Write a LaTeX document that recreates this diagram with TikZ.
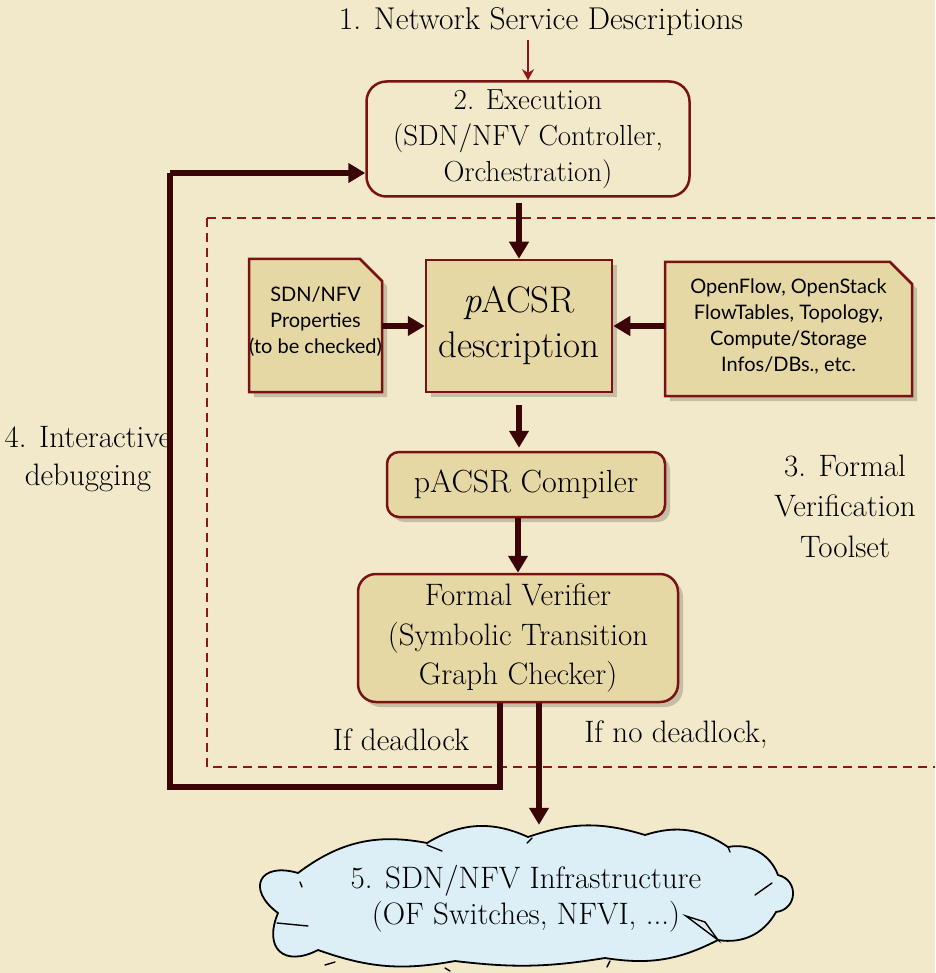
\documentclass[tikz,border=0pt]{standalone}
\usepackage{fontspec}
\newfontfamily\docsans{Lato}
\usetikzlibrary{arrows.meta,shadows,calc}
\definecolor{parch}{HTML}{F1E9C9}
\definecolor{boxfill}{HTML}{E6D8A4}
\definecolor{boxline}{HTML}{7A1212}
\definecolor{flow}{HTML}{3B0507}
\definecolor{redline}{HTML}{8E1616}
\definecolor{sky}{HTML}{DCEFF7}
\tikzset{
  serif/.style={font=\fontsize{31}{38}\selectfont, align=center},
  softshadow/.style={drop shadow={shadow xshift=5pt, shadow yshift=-5pt, fill=black, opacity=.18}},
  procbox/.style={draw=boxline, line width=2.5pt, fill=boxfill, rounded corners=18pt, softshadow, serif, inner sep=0pt},
  execbox/.style={draw=boxline, line width=2.5pt, fill=parch, rounded corners=20pt, serif, inner sep=0pt},
  descbox/.style={draw=boxline, line width=2.5pt, fill=boxfill, softshadow, inner sep=0pt, align=center},
  docbox/.style={draw=none, inner sep=0pt, align=center, font=\docsans\fontsize{20}{26}\selectfont},
  docshape/.style={draw=boxline, line width=2.5pt, fill=boxfill, softshadow},
  flowarrow/.style={draw=flow, line width=5.5pt, -{Triangle[length=17pt,width=19pt]}},
  flowline/.style={draw=flow, line width=5.5pt},
  thinarrow/.style={draw=redline, line width=2.5pt, -{Stealth[length=11pt,width=12pt]}},
  label/.style={serif},
  cloudline/.style={draw=black, line width=1.8pt, line cap=round},
  cloudmark/.style={draw=black, line width=1.4pt, line cap=round},
}
\begin{document}
\begin{tikzpicture}[x=1pt,y=-1pt]
\useasboundingbox (0,0) rectangle (935,973);
\clip (0,0) rectangle (935,973);
\fill[parch] (0,0) rectangle (935,973);

% verification toolset frame
\draw[redline, line width=1.6pt, dash pattern=on 9pt off 6pt] (207,218) rectangle (960,767);

% title and execution stage
\node[label, font=\fontsize{31.5}{38}\selectfont] (title) at (541,22) {1. Network Service Descriptions};
\node[execbox, minimum width=323pt, minimum height=115pt, font=\fontsize{29}{36}\selectfont] (exec) at (528,139)
  {2. Execution\\(SDN/NFV Controller,\\Orchestration)};

% document-style inputs with a folded corner
\filldraw[docshape] (249,259) -- (360,259) -- (382,281) -- (382,392) -- (249,392) -- cycle;
\node[docbox, minimum width=133pt, minimum height=133pt] (props) at (315.5,322)
  {SDN/NFV\\Properties\\(to be checked)};
\filldraw[docshape] (665,262) -- (890,262) -- (912,284) -- (912,396) -- (665,396) -- cycle;
\node[docbox, minimum width=247pt, minimum height=134pt] (ofin) at (788.5,326)
  {OpenFlow, OpenStack\\FlowTables, Topology,\\Compute/Storage\\Infos/DBs., etc.};

% pACSR pipeline
\node[descbox, minimum width=186pt, minimum height=132pt, font=\fontsize{37}{45}\selectfont] (desc) at (519,326)
  {\textit{p}ACSR\\description};
\node[procbox, rounded corners=12pt, minimum width=278pt, minimum height=65pt, font=\fontsize{32}{38}\selectfont] (comp) at (526,484.5)
  {pACSR Compiler};
\node[procbox, minimum width=320pt, minimum height=128pt, font=\fontsize{31}{39.5}\selectfont] (fv) at (518,638)
  {Formal Verifier\\(Symbolic Transition\\Graph Checker)};

% infrastructure cloud outline
\coordinate (ca) at (278,913);
\coordinate (cb) at (298,873);
\coordinate (cc) at (427,843);
\coordinate (cd) at (528,837);
\coordinate (ce) at (645,835);
\coordinate (cf) at (728,847);
\coordinate (cg) at (778,875);
\coordinate (ch) at (776,912);
\coordinate (ci) at (718,940);
\coordinate (cj) at (605,958);
\coordinate (ck) at (455,961);
\coordinate (cl) at (318,950);
\def\cloudpath{(ca) to[bend left=80, looseness=2.3] (cb) to[bend left=24] (cc) to[bend left=28] (cd)
  to[bend left=18] (ce) to[bend left=26] (cf) to[bend left=40] (cg) to[bend left=80, looseness=1.5] (ch)
  to[bend left=35] (ci) to[bend left=18] (cj) to[bend left=8] (ck) to[bend left=15] (cl)
  to[bend left=70, looseness=1.8] (ca) -- cycle}
\fill[black, opacity=.25] [xshift=7pt, yshift=-7pt] \cloudpath;
\filldraw[cloudline, fill=sky] \cloudpath;
% hand-drawn strokes on the cloud
\draw[cloudmark] (277,923) -- (308,926);
\draw[cloudmark] (300,882) -- (302,887);
\draw[cloudmark] (427,845) -- (442,851);
\draw[cloudmark] (527,843) -- (532,838);
\draw[cloudmark] (728,847) -- (730,852);
\draw[cloudmark] (755,895) -- (772,883);
\draw[cloudmark] (325,965) -- (335,962);
\draw[cloudmark] (445,968) -- (450,971);
\draw[cloudmark] (607,967) -- (610,961);
\filldraw[cloudmark, fill=sky!60!gray!40] (686,916) -- (718,940) -- (705,922) -- cycle;
\node[serif, minimum width=540pt, minimum height=138pt, inner sep=0pt, font=\fontsize{31}{36}\selectfont] (infra) at (526,899)
  {5. SDN/NFV Infrastructure\\(OF Switches, NFVI, ...)};

% labels
\node[label] (dbg) at (88,459) {4. Interactive\\debugging};
\node[label] (dl) at (401,740) {If deadlock};
\node[label] (ndl) at (676,735) {If no deadlock,};
\node[label, font=\fontsize{31}{40.5}\selectfont] (tool) at (845,506) {3. Formal\\Verification\\Toolset};

% connectors
\draw[thinarrow] (exec.north |- title.south) -- (exec.north);
\draw[flowarrow, shorten <=5pt] (exec.south -| desc.north) -- (desc.north);
\draw[flowarrow] (props.east |- desc.west) -- (desc.west);
\draw[flowarrow] (ofin.west) -- (desc.east);
\draw[flowarrow, shorten <=12pt, shorten >=3pt] (desc.south) -- (desc.south |- comp.north);
\draw[flowarrow] (fv.north |- comp.south) -- (fv.north);
\coordinate (yesout) at ($(fv.south)+(21,0)$);
\draw[flowarrow, shorten >=5pt] (yesout) -- (yesout |- infra.north);
\coordinate (noout) at ($(fv.south)+(-18,0)$);
\coordinate (loopbl) at (170,787);
\coordinate (execin) at ($(exec.west)+(0,34)$);
\draw[flowline, line join=miter] (noout) -- (noout |- loopbl) -- (loopbl) -- (loopbl |- execin);
\draw[flowarrow] (loopbl |- execin) -- (execin);
\end{tikzpicture}
\end{document}
